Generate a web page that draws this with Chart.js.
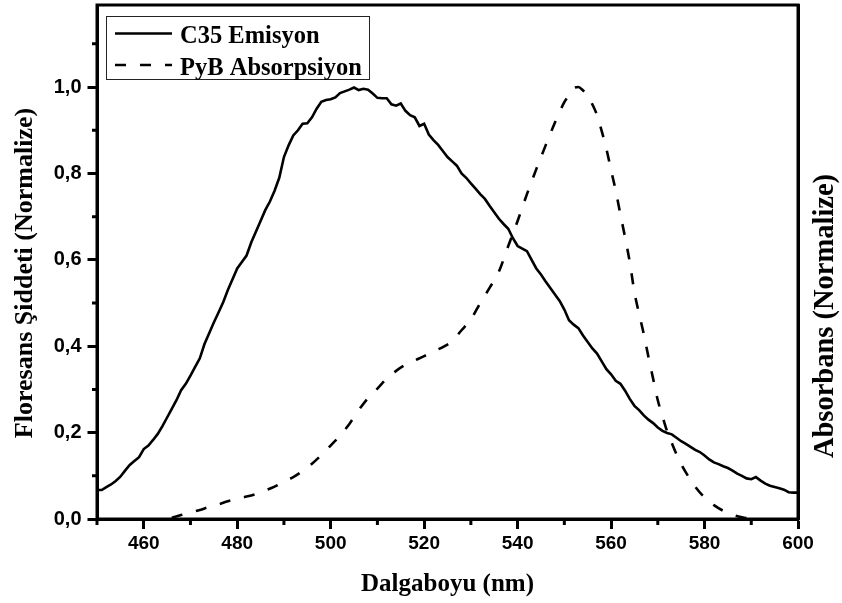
<!DOCTYPE html>
<html>
<head>
<meta charset="utf-8">
<script src="https://cdn.jsdelivr.net/npm/chart.js@4.4.1/dist/chart.umd.min.js"></script>
<style>
  html, body { margin: 0; padding: 0; background: #fff; }
  canvas { display: block; }
</style>
</head>
<body>
<canvas id="chart" width="842" height="603"></canvas>
<script>
// C35 emission spectrum (normalized fluorescence intensity)
const emissionNm = [
  450,451,452,453,454,455,456,457,458,459,460,461,462,463,464,465,466,467,468,469,
  470,471,472,473,474,475,476,477,478,479,480,481,482,483,484,485,486,487,488,489,
  490,491,492,493,494,495,496,497,498,499,500,501,502,503,504,505,506,507,508,509,
  510,511,512,513,514,515,516,517,518,519,520,521,522,523,524,525,526,527,528,529,
  530,531,532,533,534,535,536,537,538,539,540,541,542,543,544,545,546,547,548,549,
  550,551,552,553,554,555,556,557,558,559,560,561,562,563,564,565,566,567,568,569,
  570,571,572,573,574,575,576,577,578,579,580,581,582,583,584,585,586,587,588,589,
  590,591,592,593,594,595,596,597,598,599,600
];
const emissionValues = [
  0.067,0.067,0.074,0.080,0.088,0.098,0.112,0.125,0.134,0.143,0.162,0.170,0.183,0.197,0.215,0.235,0.255,0.275,0.298,0.313,
  0.332,0.352,0.372,0.405,0.430,0.455,0.478,0.502,0.530,0.555,0.580,0.595,0.610,0.640,0.665,0.690,0.715,0.735,0.760,0.790,
  0.838,0.865,0.888,0.900,0.915,0.916,0.930,0.950,0.966,0.970,0.972,0.976,0.986,0.990,0.994,0.999,0.993,0.996,0.994,0.985,
  0.975,0.974,0.974,0.960,0.957,0.962,0.945,0.935,0.930,0.910,0.915,0.890,0.877,0.866,0.852,0.838,0.828,0.818,0.800,0.790,
  0.777,0.765,0.752,0.741,0.725,0.710,0.695,0.683,0.672,0.650,0.632,0.626,0.620,0.600,0.580,0.566,0.550,0.535,0.520,0.505,
  0.485,0.460,0.450,0.442,0.425,0.410,0.395,0.383,0.365,0.347,0.335,0.320,0.313,0.297,0.278,0.262,0.252,0.240,0.230,0.222,
  0.212,0.204,0.199,0.196,0.188,0.180,0.174,0.167,0.160,0.155,0.147,0.138,0.131,0.127,0.122,0.118,0.112,0.105,0.100,0.094,
  0.092,0.097,0.089,0.082,0.077,0.074,0.071,0.068,0.062,0.061,0.061
];

// PyB absorption spectrum (normalized absorbance)
const absorptionNm = [
  466,468,470,472,474,476,478,480,482,484,486,488,490,492,494,496,498,500,502,504,
  506,508,510,512,514,516,518,520,522,524,526,528,530,532,534,536,538,540,542,544,
  546,548,550,551,552,553,554,555,556,557,558,559,560,561,562,563,564,565,566,567,
  568,569,570,571,572,573,574,575,576,578,580,582,584,586,588,590
];
const absorptionValues = [
  0.003,0.009,0.015,0.021,0.028,0.034,0.041,0.047,0.052,0.058,0.066,0.075,0.086,0.097,0.111,0.128,0.148,0.170,0.193,0.220,
  0.252,0.280,0.302,0.325,0.343,0.357,0.367,0.377,0.388,0.398,0.412,0.437,0.462,0.500,0.535,0.573,0.632,0.690,0.752,0.810,
  0.865,0.918,0.965,0.981,0.998,1.000,0.992,0.980,0.960,0.935,0.898,0.857,0.808,0.760,0.705,0.652,0.595,0.525,0.475,0.428,
  0.375,0.325,0.275,0.238,0.203,0.176,0.150,0.127,0.108,0.075,0.050,0.032,0.019,0.010,0.004,0.000
];

// Axis ticks
const xMajorTicks = [460, 480, 500, 520, 540, 560, 580, 600];
const xMinorTicks = [450, 470, 490, 510, 530, 550, 570, 590];
const yMajorTicks = [0, 0.2, 0.4, 0.6, 0.8, 1.0];
const yMinorTicks = [0.1, 0.3, 0.5, 0.7, 0.9, 1.1];

// Texts
const seriesLabels = ['C35 Emisyon', 'PyB Absorpsiyon'];
const xTitle = 'Dalgaboyu (nm)';
const yTitle = 'Floresans Şiddeti (Normalize)';
const y2Title = 'Absorbans (Normalize)';

const SERIF = "'Liberation Serif', 'Times New Roman', serif";
const SANS = "'Liberation Sans', Arial, sans-serif";
const DASH = [11, 14];

// Frame, minor ticks, legend box and axis titles
const decorations = {
  id: 'decorations',
  afterDraw(chart) {
    const ctx = chart.ctx;
    const a = chart.chartArea;
    const xs = chart.scales.x, ys = chart.scales.y;
    ctx.save();

    // frame
    ctx.strokeStyle = '#000';
    ctx.lineWidth = 3;
    ctx.strokeRect(a.left, a.top, a.right - a.left, a.bottom - a.top);

    // minor ticks
    ctx.lineWidth = 3;
    ctx.beginPath();
    xMinorTicks.forEach(v => {
      const px = xs.getPixelForValue(v);
      ctx.moveTo(px, a.bottom);
      ctx.lineTo(px, a.bottom + 6);
    });
    yMinorTicks.forEach(v => {
      const py = ys.getPixelForValue(v);
      ctx.moveTo(a.left, py);
      ctx.lineTo(a.left - 5, py);
    });
    ctx.stroke();

    // legend
    const lx = 106.5, ly = 16.5, lw = 263, lh = 63;
    ctx.fillStyle = '#fff';
    ctx.fillRect(lx, ly, lw, lh);
    ctx.lineWidth = 1;
    ctx.strokeStyle = '#222';
    ctx.strokeRect(lx, ly, lw, lh);
    const rows = [33.5, 65];
    chart.data.datasets.forEach((ds, i) => {
      ctx.beginPath();
      ctx.lineWidth = ds.borderWidth;
      ctx.strokeStyle = ds.borderColor;
      ctx.setLineDash(ds.borderDash || []);
      ctx.moveTo(115, rows[i]);
      ctx.lineTo(172, rows[i]);
      ctx.stroke();
      ctx.setLineDash([]);
      ctx.fillStyle = '#000';
      ctx.font = 'bold 24.5px ' + SERIF;
      ctx.textAlign = 'left';
      ctx.textBaseline = 'alphabetic';
      ctx.fillText(ds.label, 180, rows[i] + 9.5);
    });

    // axis titles
    ctx.fillStyle = '#000';
    ctx.textAlign = 'center';
    ctx.textBaseline = 'alphabetic';
    ctx.font = 'bold 25px ' + SERIF;
    ctx.fillText(xTitle, (a.left + a.right) / 2, 591);

    ctx.save();
    ctx.translate(32, 273);
    ctx.rotate(-Math.PI / 2);
    ctx.font = 'bold 26px ' + SERIF;
    ctx.fillText(yTitle, 0, 0);
    ctx.restore();

    ctx.save();
    ctx.translate(833, 316);
    ctx.rotate(-Math.PI / 2);
    ctx.font = 'bold 28.5px ' + SERIF;
    ctx.fillText(y2Title, 0, 0);
    ctx.restore();

    ctx.restore();
  }
};

const tickGrid = (len) => ({
  display: true,
  drawOnChartArea: false,
  drawTicks: true,
  tickLength: len,
  tickWidth: 3,
  tickColor: '#000',
  color: '#000'
});

new Chart(document.getElementById('chart'), {
  type: 'line',
  data: {
    datasets: [
      {
        label: seriesLabels[0],
        data: emissionNm.map((x, i) => ({ x, y: emissionValues[i] })),
        borderColor: '#000',
        borderWidth: 2.6,
        pointRadius: 0,
        tension: 0,
        fill: false,
        yAxisID: 'y'
      },
      {
        label: seriesLabels[1],
        data: absorptionNm.map((x, i) => ({ x, y: absorptionValues[i] })),
        borderColor: '#000',
        borderWidth: 2.6,
        borderDash: DASH,
        pointRadius: 0,
        cubicInterpolationMode: 'monotone',
        fill: false,
        yAxisID: 'y2'
      }
    ]
  },
  options: {
    responsive: false,
    animation: false,
    devicePixelRatio: 1,
    layout: { padding: { top: 5, left: 0, right: 0, bottom: 0 } },
    plugins: { legend: { display: false }, tooltip: { enabled: false } },
    scales: {
      x: {
        type: 'linear',
        min: 450,
        max: 600,
        afterBuildTicks: s => { s.ticks = xMajorTicks.map(v => ({ value: v })); },
        afterFit: s => { s.height = 84; s.paddingLeft = 0; s.paddingRight = 0; },
        ticks: {
          color: '#000',
          font: { family: SANS, size: 19, weight: 'bold' },
          padding: 3,
          maxRotation: 0,
          autoSkip: false,
          callback: v => String(v)
        },
        grid: tickGrid(10),
        border: { display: true, color: '#000', width: 3 }
      },
      y: {
        position: 'left',
        min: 0,
        max: 1.19,
        afterBuildTicks: s => { s.ticks = yMajorTicks.map(v => ({ value: v })); },
        afterFit: s => { s.width = 97; s.paddingTop = 0; s.paddingBottom = 0; },
        ticks: {
          color: '#000',
          font: { family: SANS, size: 20, weight: 'bold' },
          padding: 6,
          callback: v => Number(v).toFixed(1).replace('.', ',')
        },
        grid: tickGrid(9.5),
        border: { display: true, color: '#000', width: 3 }
      },
      y2: {
        position: 'right',
        min: 0,
        max: 1.19,
        afterFit: s => { s.width = 44; s.paddingTop = 0; s.paddingBottom = 0; },
        ticks: { display: false },
        grid: { display: false },
        border: { display: true, color: '#000', width: 3 }
      }
    }
  },
  plugins: [decorations]
});
</script>
</body>
</html>
